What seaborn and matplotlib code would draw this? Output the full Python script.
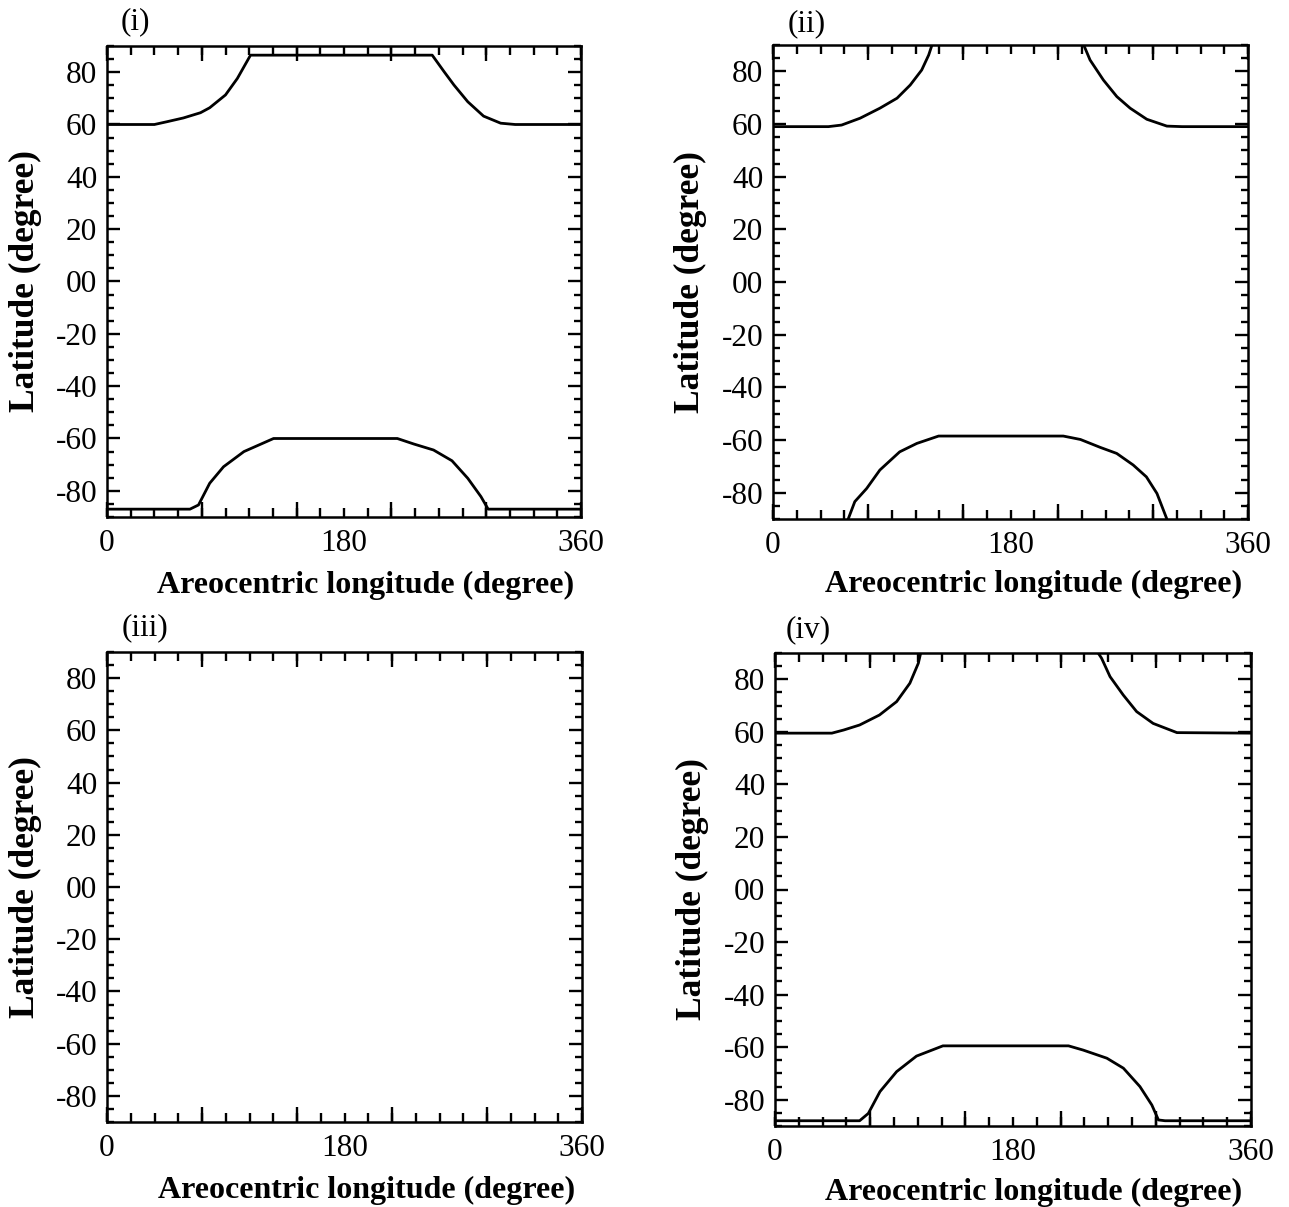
import numpy as np
import pandas as pd
import matplotlib
matplotlib.use("Agg")
import matplotlib.pyplot as plt
from matplotlib.ticker import MultipleLocator, FuncFormatter, NullFormatter
import seaborn as sns

# ---------------- data ----------------
# Panel (i)
i_north_lon = [0, 36, 45, 58, 71, 78, 90, 99, 109, 247, 256, 263.5, 274, 286, 299, 310, 360]
i_north_lat = [60, 60, 61, 62.5, 64.5, 66.4, 71.3, 77.6, 86.5, 86.5, 80.2, 75.1, 68.7, 63.2, 60.5, 60, 60]
i_south_lon = [0, 63, 69.5, 78, 88.5, 104, 126.5, 220.5, 233, 248, 262, 274, 284, 289.5, 360]
i_south_lat = [-87, -87, -85.4, -77.1, -70.8, -65, -60, -60, -62.1, -64.4, -68.5, -75.2, -82.2, -87, -87]

# Panel (ii)
ii_north_left_lon = [0, 42, 52, 66, 81, 94, 104, 112.7, 118, 120.5]
ii_north_left_lat = [59, 59, 59.6, 62.2, 66, 69.8, 74.8, 80.5, 86.2, 90]
ii_north_right_lon = [235.5, 240.3, 250.4, 260.6, 270.7, 283.3, 298.5, 310, 360]
ii_north_right_lat = [90, 84.3, 76.7, 70.4, 66, 61.8, 59.2, 59, 59]
ii_south_lon = [57, 62, 71, 81, 96, 109, 125.5, 220, 233, 248, 260.5, 273, 283, 291, 298.5]
ii_south_lat = [-90, -83.4, -78.4, -71.4, -64.5, -61.3, -58.5, -58.5, -59.8, -62.8, -65.1, -69.5, -74, -80.3, -90]

# Panel (iv)
iv_north_left_lon = [0, 43, 52, 64, 79, 92, 102, 108.4, 110.2]
iv_north_left_lat = [59.5, 59.5, 60.7, 62.6, 66.4, 71.5, 78.5, 86.1, 90]
iv_north_right_lon = [244.4, 247, 253.4, 263.4, 273.5, 286, 304, 360]
iv_north_right_lat = [90, 88, 81, 74, 67.7, 63.2, 59.7, 59.5]
iv_south_lon = [0, 64, 70.6, 79.4, 92, 107, 127, 222, 233, 251, 263.5, 276, 285, 290, 295, 360]
iv_south_lat = [-88, -88, -85.2, -76.9, -69.3, -63.4, -59.5, -59.5, -61.1, -64.2, -68, -75, -82, -87.7, -88, -88]

panel_labels = ["(i)", "(ii)", "(iii)", "(iv)"]
x_label_text = "Areocentric longitude (degree)"
y_label_text = "Latitude (degree)"
x_tick_labels = {0: "0", 180: "180", 360: "360"}


def make_df(*segs):
    frames = []
    for k, (lo, la) in enumerate(segs):
        frames.append(pd.DataFrame({"lon": lo, "lat": la, "seg": k}))
    return pd.concat(frames, ignore_index=True)


panel_data = [
    make_df((i_north_lon, i_north_lat), (i_south_lon, i_south_lat)),
    make_df((ii_north_left_lon, ii_north_left_lat),
            (ii_north_right_lon, ii_north_right_lat),
            (ii_south_lon, ii_south_lat)),
    None,
    make_df((iv_north_left_lon, iv_north_left_lat),
            (iv_north_right_lon, iv_north_right_lat),
            (iv_south_lon, iv_south_lat)),
]

# ---------------- style ----------------
sns.set_theme(style="ticks")
plt.rcParams["font.family"] = ["Liberation Serif", "DejaVu Serif"]
plt.rcParams["axes.unicode_minus"] = False
plt.rcParams["text.color"] = "black"
plt.rcParams["axes.labelcolor"] = "black"

W, H = 1289, 1207
fig = plt.figure(figsize=(W / 100, H / 100), dpi=100)
fig.patch.set_facecolor("white")

# pixel boxes: left, top, right, bottom
boxes = [
    (107, 46, 581, 517),
    (773, 45, 1248, 519),
    (107, 652, 582, 1122),
    (775, 653, 1251, 1126),
]
label_pos = [(135, 22), (807, 24), (145, 628), (808, 630)]
xlabel_xy = [(366, 585), (1034, 584), (367, 1190), (1034, 1192)]
ylabel_x = [25, 690, 25, 692]

for idx, (l, t, r, b) in enumerate(boxes):
    ax = fig.add_axes([l / W, 1 - b / H, (r - l) / W, (b - t) / H])
    ax.set_facecolor("white")
    df = panel_data[idx]
    if df is not None:
        sns.lineplot(data=df, x="lon", y="lat", units="seg", estimator=None,
                     sort=False, color="black", linewidth=2.0, ax=ax,
                     legend=False)
    ax.set_xlim(0, 360)
    ax.set_ylim(-90, 90)

    # x ticks: long every 72, short every 18, labels at 0/180/360
    ax.xaxis.remove_overlapping_locs = False
    ax.xaxis.set_major_locator(MultipleLocator(72))
    ax.xaxis.set_major_formatter(NullFormatter())
    ax.xaxis.set_minor_locator(MultipleLocator(18))
    ax.xaxis.set_minor_formatter(FuncFormatter(
        lambda v, p: x_tick_labels.get(int(round(v)), "") if abs(v - round(v)) < 1e-6 else ""))

    # y ticks: long every 20, short every 5
    ax.yaxis.set_major_locator(MultipleLocator(20))
    ax.yaxis.set_major_formatter(FuncFormatter(
        lambda v, p: "00" if abs(v) < 1e-6 else "%d" % int(round(v))))
    ax.yaxis.set_minor_locator(MultipleLocator(5))

    ax.tick_params(axis="both", which="both", direction="in", top=True,
                   right=True, colors="black", labelcolor="black",
                   width=1.7, labelsize=22.5)
    ax.tick_params(axis="x", which="major", length=11, pad=9)
    ax.tick_params(axis="x", which="minor", length=6.5, pad=9)
    ax.tick_params(axis="y", which="major", length=9.5, pad=7)
    ax.tick_params(axis="y", which="minor", length=5)

    for sp in ax.spines.values():
        sp.set_visible(True)
        sp.set_linewidth(1.8)
        sp.set_color("black")

    ax.set_xlabel(x_label_text, fontsize=23, fontweight="bold", color="black")
    ax.set_ylabel(y_label_text, fontsize=25.5, fontweight="bold", color="black")
    ax.xaxis.label.set_va("center")
    ax.yaxis.label.set_va("center")
    ax.yaxis.label.set_ha("center")
    lxp, lyp = xlabel_xy[idx]
    ax.xaxis.set_label_coords((lxp - l) / (r - l), (b - lyp) / (b - t))
    ax.yaxis.set_label_coords((ylabel_x[idx] - l) / (r - l), 0.5)

    lx, ly = label_pos[idx]
    fig.text(lx / W, 1 - ly / H, panel_labels[idx], fontsize=22.5,
             ha="center", va="center", color="black")

fig.savefig("out.png", dpi=100, facecolor="white")
